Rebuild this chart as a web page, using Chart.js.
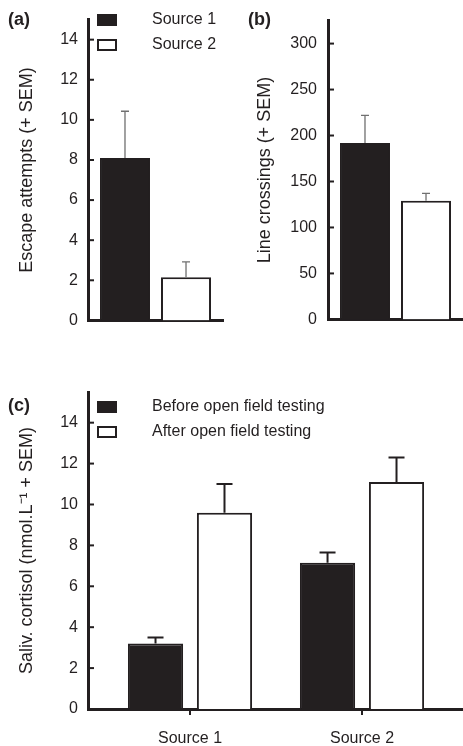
<!DOCTYPE html>
<html>
<head>
<meta charset="utf-8">
<script src="https://cdn.jsdelivr.net/npm/chart.js@4.4.0/dist/chart.umd.min.js"></script>
<style>
  body { margin: 0; background: #fff; }
  #wrap { position: relative; width: 463px; height: 746px; }
  canvas { position: absolute; }
</style>
</head>
<body>
<div id="wrap">
  <canvas id="chartA" style="left:0px;top:0px" width="231" height="340"></canvas>
  <canvas id="chartB" style="left:231px;top:0px" width="232" height="340"></canvas>
  <canvas id="chartC" style="left:0px;top:340px" width="463" height="406"></canvas>
</div>
<script>
// group names
const sources = ['Source 1', 'Source 2'];

// (a) escape attempts
const escapeMeans = [8.1, 2.15];
const escapeSem = [2.33, 0.77];

// (b) line crossings
const crossingMeans = [192, 129];
const crossingSem = [30, 8];

// (c) salivary cortisol, before / after the open field test
const cortisolSeries = ['Before open field testing', 'After open field testing'];
const cortisolBefore = [3.2, 7.15];
const cortisolBeforeSem = [0.3, 0.5];
const cortisolAfter = [9.6, 11.1];
const cortisolAfterSem = [1.4, 1.2];

const ink = '#231f20';
const family = "'Liberation Sans', Arial, sans-serif";
const fills = [ink, '#ffffff'];

// error bars, inner y ticks, legend and panel letter
const decor = {
    id: 'decor',
    afterDatasetsDraw(chart, args, opts) {
        const ctx = chart.ctx;
        const yScale = chart.scales.y;
        const area = chart.chartArea;
        ctx.save();

        // upward error bars
        ctx.strokeStyle = opts.errColor;
        ctx.lineWidth = opts.errWidth;
        chart.data.datasets.forEach((ds, d) => {
            const meta = chart.getDatasetMeta(d);
            meta.data.forEach((bar, i) => {
                const top = yScale.getPixelForValue(ds.means[i] + ds.sem[i]);
                ctx.beginPath();
                ctx.moveTo(bar.x, bar.y);
                ctx.lineTo(bar.x, top);
                ctx.moveTo(bar.x - opts.cap, top);
                ctx.lineTo(bar.x + opts.cap, top);
                ctx.stroke();
            });
        });

        // tick marks pointing into the plot
        ctx.strokeStyle = ink;
        ctx.lineWidth = 2;
        yScale.ticks.forEach((t) => {
            const y = yScale.getPixelForValue(t.value);
            ctx.beginPath();
            ctx.moveTo(area.left, y);
            ctx.lineTo(area.left + 6, y);
            ctx.stroke();
        });

        // legend
        if (opts.legend) {
            ctx.font = '16px ' + family;
            ctx.textBaseline = 'middle';
            ctx.textAlign = 'left';
            chart.data.datasets.forEach((ds, d) => {
                const cy = opts.legend.y + d * opts.legend.gap;
                ctx.fillStyle = ds.backgroundColor;
                ctx.fillRect(opts.legend.x, cy - 6, 20, 12);
                ctx.strokeStyle = ink;
                ctx.lineWidth = 2;
                ctx.strokeRect(opts.legend.x + 1, cy - 5, 18, 10);
                ctx.fillStyle = ink;
                ctx.fillText(ds.label, opts.legend.textX, cy);
            });
        }

        // panel letter
        ctx.font = 'bold 18px ' + family;
        ctx.fillStyle = ink;
        ctx.textBaseline = 'middle';
        ctx.textAlign = 'left';
        ctx.fillText(opts.letter, opts.letterX, opts.letterY);
        ctx.restore();
    }
};

function yAxis(max, step, width, text, titleTop, pad) {
    return {
        min: 0,
        max: max,
        afterFit: (s) => { s.width = width; },
        afterBuildTicks: (s) => { s.ticks = s.ticks.filter(t => t.value % step === 0); },
        ticks: { stepSize: step, padding: pad, color: ink, font: { size: 16, family: family } },
        grid: { display: false, drawTicks: false },
        border: { display: true, color: ink, width: 3 },
        title: {
            display: true, text: text, color: ink,
            font: { size: 18, family: family },
            padding: { top: titleTop, bottom: 0 }
        }
    };
}

function flatX() {
    return {
        afterFit: (s) => { s.height = 0; },
        ticks: { display: false },
        grid: { display: false },
        border: { display: true, color: ink, width: 3 }
    };
}

function sourceSets(means, sem) {
    return sources.map((name, i) => ({
        label: name,
        data: [means[i]],
        means: [means[i]],
        sem: [sem[i]],
        backgroundColor: fills[i],
        borderColor: ink,
        borderWidth: 2,
        categoryPercentage: 0.904,
        barPercentage: 0.82
    }));
}

new Chart(document.getElementById('chartA'), {
    type: 'bar',
    data: { labels: [''], datasets: sourceSets(escapeMeans, escapeSem) },
    options: {
        responsive: false,
        animation: false,
        layout: { padding: { top: 8, right: 8, bottom: 17, left: 0 } },
        scales: {
            x: flatX(),
            y: yAxis(15, 2, 88, 'Escape attempts (+ SEM)', 16, 10)
        },
        plugins: {
            legend: { display: false },
            tooltip: { enabled: false },
            decor: {
                errColor: '#707070', errWidth: 1.3, cap: 4,
                legend: { x: 97, y: 20, gap: 25, textX: 152 },
                letter: '(a)', letterX: 8, letterY: 20
            }
        }
    },
    plugins: [decor]
});

new Chart(document.getElementById('chartB'), {
    type: 'bar',
    data: { labels: [''], datasets: sourceSets(crossingMeans, crossingSem) },
    options: {
        responsive: false,
        animation: false,
        layout: { padding: { top: 8, right: 0, bottom: 17, left: 0 } },
        scales: {
            x: flatX(),
            y: yAxis(325, 50, 97, 'Line crossings (+ SEM)', 23, 11)
        },
        plugins: {
            legend: { display: false },
            tooltip: { enabled: false },
            decor: {
                errColor: '#707070', errWidth: 1.3, cap: 4,
                letter: '(b)', letterX: 17, letterY: 20
            }
        }
    },
    plugins: [decor]
});

const cortisolSets = [
    [cortisolBefore, cortisolBeforeSem],
    [cortisolAfter, cortisolAfterSem]
].map(([means, sem], d) => ({
    label: cortisolSeries[d],
    data: means.map((v, i) => ({ x: i + 1, y: v })),
    means: means,
    sem: sem,
    backgroundColor: fills[d],
    borderColor: ink,
    borderWidth: 2,
    categoryPercentage: 0.802,
    barPercentage: 0.8
}));

new Chart(document.getElementById('chartC'), {
    type: 'bar',
    data: { datasets: cortisolSets },
    options: {
        responsive: false,
        animation: false,
        layout: { padding: { top: 52, right: 0, bottom: 0, left: 0 } },
        scales: {
            x: {
                type: 'linear',
                min: 0.407,
                max: 2.587,
                offset: false,
                afterFit: (s) => { s.height = 37; },
                afterBuildTicks: (s) => { s.ticks = sources.map((_, i) => ({ value: i + 1 })); },
                ticks: {
                    padding: 14, color: ink, maxRotation: 0,
                    font: { size: 16, family: family },
                    callback: (v) => sources[v - 1]
                },
                grid: { offset: false, drawOnChartArea: false, drawTicks: true, tickLength: 6, lineWidth: 2, color: ink },
                border: { display: true, color: ink, width: 3 }
            },
            y: yAxis(15.5, 2, 88, 'Saliv. cortisol (nmol.L\u207B\u00B9 + SEM)', 16, 10)
        },
        plugins: {
            legend: { display: false },
            tooltip: { enabled: false },
            decor: {
                errColor: ink, errWidth: 2, cap: 8,
                legend: { x: 97, y: 67, gap: 25, textX: 152 },
                letter: '(c)', letterX: 8, letterY: 66
            }
        }
    },
    plugins: [decor]
});
</script>
</body>
</html>
